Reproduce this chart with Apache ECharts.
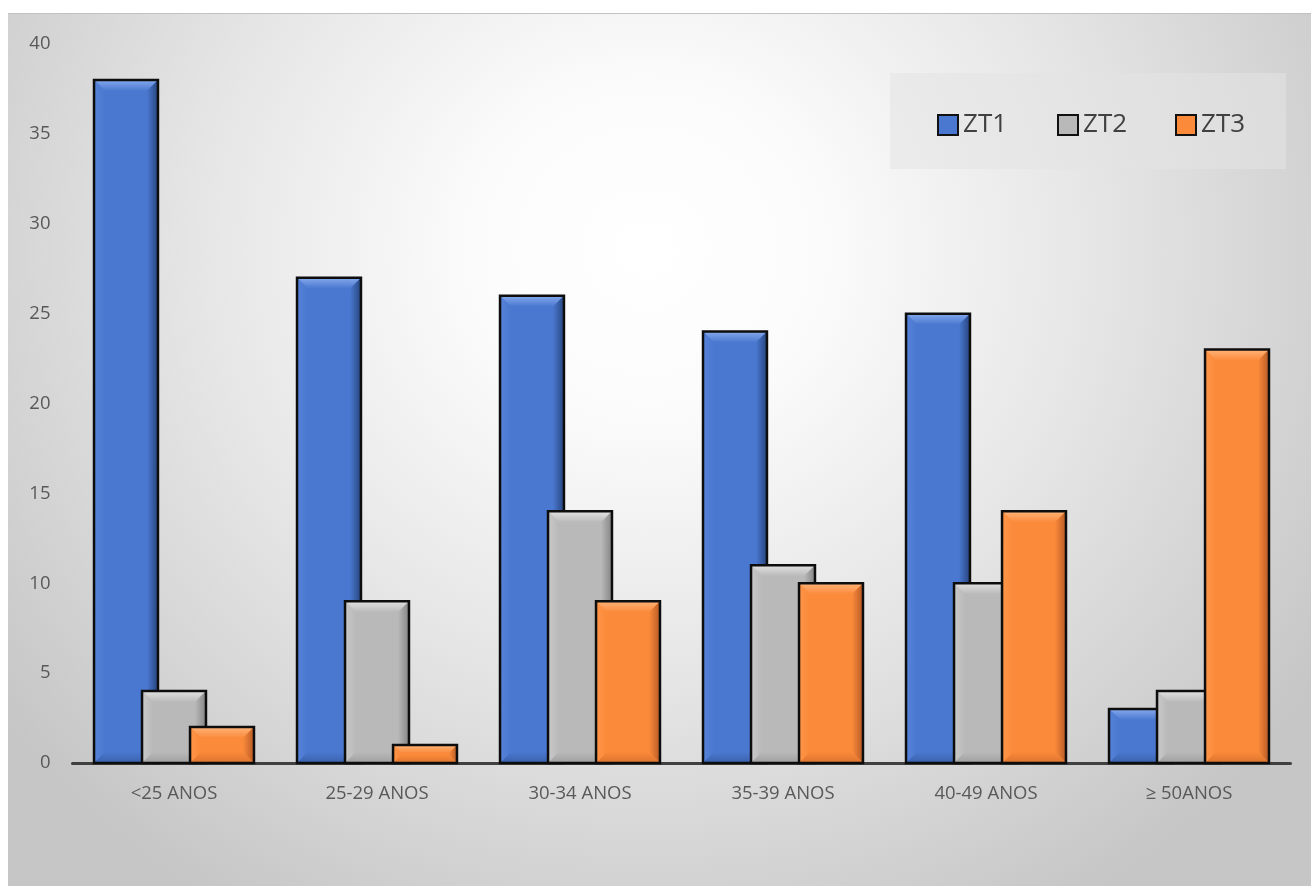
<!DOCTYPE html>
<html>
<head>
<meta charset="utf-8">
<script src="https://cdn.jsdelivr.net/npm/echarts@6/dist/echarts.min.js"></script>
<style>
  html, body { margin: 0; padding: 0; background: #ffffff; }
  #chart {
    position: absolute; left: 8px; top: 13px; width: 1303px; height: 873px;
    background: radial-gradient(ellipse 62% 88% at 49% 27%, #ffffff 0%, #fbfbfb 22%, #e6e6e6 55%, #c6c6c6 100%);
    border-top: 1px solid #c2c2c2;
  }
</style>
</head>
<body>
<div id="chart"></div>
<script>
// Age groups and counts per zone
const categories = ['<25 ANOS', '25-29 ANOS', '30-34 ANOS', '35-39 ANOS', '40-49 ANOS', '≥ 50ANOS'];
const zt1 = [38, 27, 26, 24, 25, 3];
const zt2 = [4, 9, 14, 11, 10, 4];
const zt3 = [2, 1, 9, 10, 14, 23];
const seriesNames = ['ZT1', 'ZT2', 'ZT3'];
const yTicks = [0, 5, 10, 15, 20, 25, 30, 35, 40];

// Bevelled bar palettes: body, top light, left light, right shade, bottom shade
const palettes = [
  { body: '#4a78d0', top: '#85a9ec', left: '#5683d8', right: '#27457f', bottom: '#3a61ac' },
  { body: '#b9b9b9', top: '#e2e2e2', left: '#c9c9c9', right: '#858585', bottom: '#a0a0a0' },
  { body: '#fb8a3a', top: '#ffb47a', left: '#ff9548', right: '#b75a26', bottom: '#dc732e' }
];

const barWidthRatio = 0.315;   // bar width as a share of the category band
const barStepRatio = 0.2365;   // distance between neighbouring bars in a group

function makeRender(idx) {
  const pal = palettes[idx];
  return function (params, api) {
    const cat = api.value(0);
    const val = api.value(1);
    const base = api.coord([cat, 0]);
    const top = api.coord([cat, val]);
    const band = api.size([1, 0])[0];
    const w = band * barWidthRatio;
    const cx = base[0] + (idx - 1) * band * barStepRatio;
    const x0 = cx - w / 2, x1 = cx + w / 2;
    const y0 = top[1], y1 = base[1];
    const h = y1 - y0;
    const b = Math.max(1, Math.min(11, h / 2 - 1, w / 2 - 1));
    const lg = (x, y, x2, y2, c1, c2) => new echarts.graphic.LinearGradient(x, y, x2, y2, [
      { offset: 0, color: c1 }, { offset: 1, color: c2 }
    ]);
    return {
      type: 'group',
      children: [
        { type: 'rect', shape: { x: x0, y: y0, width: w, height: h },
          style: { fill: pal.body } },
        { type: 'polygon', shape: { points: [[x0, y0], [x1, y0], [x1 - b, y0 + b], [x0 + b, y0 + b]] },
          style: { fill: lg(0, 0, 0, 1, pal.top, pal.body) } },
        { type: 'polygon', shape: { points: [[x0, y0], [x0 + b, y0 + b], [x0 + b, y1 - b], [x0, y1]] },
          style: { fill: lg(0, 0, 1, 0, pal.left, pal.body) } },
        { type: 'polygon', shape: { points: [[x1, y0], [x1, y1], [x1 - b, y1 - b], [x1 - b, y0 + b]] },
          style: { fill: lg(0, 0, 1, 0, pal.body, pal.right) } },
        { type: 'polygon', shape: { points: [[x0, y1], [x1, y1], [x1 - b, y1 - b], [x0 + b, y1 - b]] },
          style: { fill: lg(0, 0, 0, 1, pal.body, pal.bottom) } },
        { type: 'rect', shape: { x: x0, y: y0, width: w, height: h },
          style: { fill: 'none', stroke: '#0d0d0d', lineWidth: 2.5 } }
      ]
    };
  };
}

const dataSets = [zt1, zt2, zt3];
const series = dataSets.map((arr, i) => ({
  name: seriesNames[i],
  type: 'custom',
  z: 2 + i,
  itemStyle: { color: palettes[i].body },
  encode: { x: 0, y: 1 },
  data: arr.map((v, k) => [k, v]),
  renderItem: makeRender(i)
}));

// one legend block per series, spaced evenly inside the legend panel
const legendLefts = [924, 1044, 1162];
const legends = seriesNames.map((name, i) => ({
  data: [name],
  left: legendLefts[i], top: 93,
  icon: 'rect',
  itemWidth: 20, itemHeight: 20,
  itemGap: 0,
  selectedMode: false,
  itemStyle: { borderColor: '#111111', borderWidth: 2 },
  textStyle: { fontSize: 26, color: '#404040', fontFamily: 'Open Sans', padding: [0, 0, 0, 0] }
}));

const chart = echarts.init(document.getElementById('chart'), null, { renderer: 'canvas' });
chart.setOption({
  backgroundColor: 'transparent',
  animation: false,
  textStyle: { fontFamily: 'Open Sans' },
  graphic: [{
    type: 'rect', left: 882, top: 59, z: 0,
    shape: { width: 396, height: 96 },
    style: { fill: 'rgba(228,228,228,0.55)' }
  }],
  legend: legends,
  grid: { left: 64.5, right: 20.5, top: 30, bottom: 124, containLabel: false },
  xAxis: {
    type: 'category',
    data: categories,
    axisLine: { show: true, lineStyle: { color: '#404040', width: 3 } },
    axisTick: { show: false },
    axisLabel: { fontSize: 18.5, color: '#595959', margin: 21, fontFamily: 'Open Sans' },
    splitLine: { show: false }
  },
  yAxis: {
    type: 'value',
    min: yTicks[0],
    max: yTicks[yTicks.length - 1],
    interval: yTicks[1] - yTicks[0],
    axisLine: { show: false },
    axisTick: { show: false },
    splitLine: { show: false },
    axisLabel: { fontSize: 18.5, color: '#595959', margin: 22, fontFamily: 'Open Sans' }
  },
  series: series
});
</script>
</body>
</html>
